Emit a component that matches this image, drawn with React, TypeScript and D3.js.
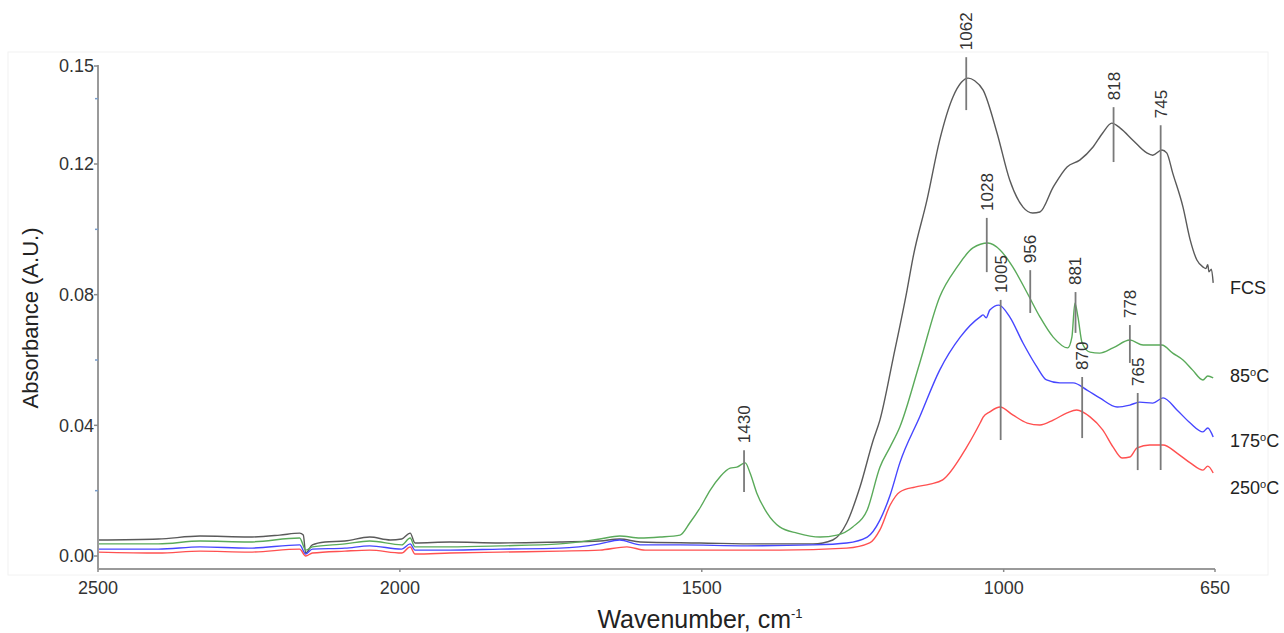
import React from "react";
import * as d3 from "d3";

type Pt = [number, number];

// Spectra: [wavenumber (cm-1), absorbance (A.U.)]
const fcsSpectrum: Pt[] = [
  [2500, 0.0049], [2400, 0.0052], [2331, 0.0061], [2250, 0.0058], [2199, 0.0064],
  [2166, 0.0070], [2160, 0.0064], [2156, 0.0009], [2145, 0.0034], [2124, 0.0043],
  [2091, 0.0046], [2050, 0.0058], [2016, 0.0049], [1997, 0.0052], [1983, 0.0070],
  [1975, 0.0040], [1917, 0.0043], [1834, 0.0040], [1735, 0.0043], [1669, 0.0046],
  [1636, 0.0052], [1602, 0.0043], [1503, 0.0040], [1404, 0.0037], [1316, 0.0037],
  [1283, 0.0049], [1260, 0.0101], [1238, 0.0211], [1216, 0.0355], [1205, 0.0416],
  [1183, 0.0606], [1160, 0.0814], [1150, 0.0915], [1127, 0.1090], [1106, 0.1273],
  [1084, 0.1405], [1070, 0.1450], [1059, 0.1463], [1048, 0.1455], [1034, 0.1426],
  [1011, 0.1295], [990, 0.1151], [968, 0.1068], [952, 0.1050], [940, 0.1053],
  [918, 0.1129], [895, 0.1191], [874, 0.1212], [852, 0.1252], [836, 0.1295],
  [821, 0.1325], [807, 0.1310], [786, 0.1273], [763, 0.1234], [753, 0.1227],
  [738, 0.1243], [730, 0.1234], [720, 0.1172], [703, 0.1068], [691, 0.0967],
  [680, 0.0906], [670, 0.0885], [665, 0.0880], [662, 0.0892], [660, 0.0870],
  [656, 0.0878], [653, 0.0836],
];

const spectrum85: Pt[] = [
  [2500, 0.0037], [2400, 0.0037], [2331, 0.0046], [2250, 0.0043], [2166, 0.0055],
  [2156, 0.0018], [2145, 0.0028], [2091, 0.0037], [2050, 0.0046], [1997, 0.0034],
  [1983, 0.0055], [1975, 0.0028], [1917, 0.0028], [1834, 0.0031], [1735, 0.0037],
  [1669, 0.0052], [1636, 0.0061], [1602, 0.0055], [1569, 0.0058], [1536, 0.0064],
  [1520, 0.0101], [1502, 0.0150], [1486, 0.0202], [1470, 0.0242], [1453, 0.0269],
  [1442, 0.0272], [1428, 0.0285], [1420, 0.0254], [1409, 0.0193], [1392, 0.0132],
  [1371, 0.0089], [1342, 0.0070], [1304, 0.0058], [1276, 0.0064], [1250, 0.0089],
  [1226, 0.0141], [1205, 0.0272], [1188, 0.0334], [1172, 0.0395], [1139, 0.0591],
  [1106, 0.0793], [1077, 0.0885], [1051, 0.0943], [1026, 0.0958], [1006, 0.0937],
  [985, 0.0885], [961, 0.0805], [940, 0.0732], [918, 0.0670], [894, 0.0637],
  [887, 0.0670], [882, 0.0774], [877, 0.0732], [870, 0.0652], [857, 0.0624],
  [841, 0.0621], [819, 0.0637], [791, 0.0661], [769, 0.0646], [738, 0.0646],
  [720, 0.0621], [703, 0.0600], [687, 0.0569], [670, 0.0539], [662, 0.0551],
  [653, 0.0545],
];

const spectrum175: Pt[] = [
  [2500, 0.0021], [2400, 0.0021], [2331, 0.0028], [2250, 0.0024], [2166, 0.0034],
  [2156, 0.0006], [2145, 0.0021], [2091, 0.0024], [2050, 0.0031], [1997, 0.0021],
  [1983, 0.0037], [1975, 0.0018], [1917, 0.0018], [1834, 0.0021], [1735, 0.0024],
  [1669, 0.0037], [1636, 0.0049], [1602, 0.0034], [1536, 0.0034], [1425, 0.0031],
  [1316, 0.0034], [1260, 0.0040], [1226, 0.0058], [1205, 0.0110], [1188, 0.0187],
  [1172, 0.0285], [1139, 0.0426], [1106, 0.0569], [1072, 0.0670], [1039, 0.0732],
  [1034, 0.0738], [1029, 0.0729], [1023, 0.0753], [1008, 0.0768], [990, 0.0732],
  [968, 0.0652], [945, 0.0579], [929, 0.0539], [907, 0.0530], [885, 0.0530],
  [862, 0.0508], [841, 0.0484], [812, 0.0456], [791, 0.0462], [775, 0.0471],
  [753, 0.0468], [736, 0.0484], [713, 0.0447], [691, 0.0407], [670, 0.0380],
  [662, 0.0392], [653, 0.0364],
];

const spectrum250: Pt[] = [
  [2500, 0.0012], [2400, 0.0009], [2331, 0.0015], [2250, 0.0012], [2166, 0.0021],
  [2156, 0.0000], [2145, 0.0009], [2091, 0.0015], [2050, 0.0018], [1997, 0.0009],
  [1983, 0.0028], [1975, 0.0006], [1917, 0.0009], [1834, 0.0012], [1735, 0.0015],
  [1669, 0.0018], [1624, 0.0028], [1594, 0.0018], [1536, 0.0018], [1371, 0.0018],
  [1260, 0.0024], [1222, 0.0040], [1205, 0.0080], [1188, 0.0156], [1172, 0.0196],
  [1147, 0.0211], [1122, 0.0220], [1101, 0.0233], [1061, 0.0334], [1039, 0.0407],
  [1034, 0.0425], [1023, 0.0441], [1006, 0.0456], [985, 0.0432], [961, 0.0407],
  [940, 0.0401], [918, 0.0416], [895, 0.0438], [879, 0.0447], [857, 0.0426],
  [836, 0.0386], [819, 0.0334], [804, 0.0300], [791, 0.0303], [779, 0.0331],
  [758, 0.0340], [736, 0.0340], [713, 0.0315], [691, 0.0285], [670, 0.0263],
  [662, 0.0275], [653, 0.0254],
];

const seriesData: Pt[][] = [fcsSpectrum, spectrum85, spectrum175, spectrum250];
const seriesNames = ["FCS", "85", "175", "250"];
const seriesHasDegree = [false, true, true, true];
const seriesLabelValues = [0.0822, 0.0551, 0.0352, 0.0208];
const seriesColors = ["#5a5a5a", "#5aaa5a", "#4646ff", "#ff5050"];

// Peak annotations
const peakLabels = ["1430", "1062", "1028", "1005", "956", "881", "870", "818", "778", "765", "745"];
const peakPositions = [1430, 1062, 1028, 1005, 956, 881, 870, 818, 791, 778, 740];
const peakTops = [0.0324, 0.1527, 0.1035, 0.0784, 0.0875, 0.0808, 0.0548, 0.1374, 0.0707, 0.0499, 0.1319];
const peakBottoms = [0.0196, 0.1365, 0.0869, 0.0355, 0.0744, 0.0683, 0.0361, 0.1206, 0.0591, 0.0263, 0.0263];

// Axes
const xTicks = [2500, 2000, 1500, 1000, 650];
const yMajorTicks = [0, 0.04, 0.08, 0.12, 0.15];
const yTickLabels = ["0.00", "0.04", "0.08", "0.12", "0.15"];
const yMinorTicks = [0.02, 0.06, 0.1, 0.14];

const W = 1284;
const H = 633;
const FONT = "'Liberation Sans', Arial, Helvetica, sans-serif";

export default function App() {
  const x = d3.scaleLinear().domain([2500, 650]).range([98, 1215]);
  const y = d3.scaleLinear().domain([0, 0.15]).range([556, 66]);
  const axisY = 569;

  const line = d3
    .line<Pt>()
    .x((d) => x(d[0]))
    .y((d) => y(d[1]))
    .curve(d3.curveMonotoneX);

  const labelX = x(650) + 15;

  return (
    <svg
      width={W}
      height={H}
      viewBox={`0 0 ${W} ${H}`}
      style={{ position: "absolute", left: 0, top: 0, background: "#fff" }}
      fontFamily={FONT}
    >
      <rect x={0} y={0} width={W} height={H} fill="#fff" />
      <rect x={8} y={52} width={1260} height={523} fill="none" stroke="#f2f2f2" strokeWidth={1} />

      {/* spectra */}
      {seriesData.map((s, i) => (
        <path
          key={seriesNames[i]}
          d={line([...s].sort((a, b) => b[0] - a[0])) || ""}
          fill="none"
          stroke={seriesColors[i]}
          strokeWidth={1.4}
          strokeLinejoin="round"
        />
      ))}

      {/* peak markers */}
      {peakLabels.map((lab, i) => {
        const px = x(peakPositions[i]);
        const yt = y(peakTops[i]);
        const yb = y(peakBottoms[i]);
        return (
          <g key={lab}>
            <line x1={px} x2={px} y1={yt} y2={yb} stroke="#7a7a7a" strokeWidth={1.8} />
            <text
              transform={`translate(${px},${yt - 7}) rotate(-90)`}
              textAnchor="start"
              dy="0.35em"
              fontSize={17}
              fill="#333"
            >
              {lab}
            </text>
          </g>
        );
      })}

      {/* axes */}
      <line x1={x(2500)} x2={x(2500)} y1={y(0.15) - 1} y2={axisY} stroke="#9a9a9a" strokeWidth={2} />
      <line x1={x(2500)} x2={x(650)} y1={axisY} y2={axisY} stroke="#9a9a9a" strokeWidth={2} />

      {yMajorTicks.map((t, i) => (
        <g key={"ym" + t}>
          <line x1={x(2500) - 4} x2={x(2500)} y1={y(t)} y2={y(t)} stroke="#8a8a8a" strokeWidth={1.5} />
          <text x={x(2500) - 4} y={y(t)} dy="0.35em" textAnchor="end" fontSize={18} fill="#333">
            {yTickLabels[i]}
          </text>
        </g>
      ))}
      {yMinorTicks.map((t) => (
        <line key={"yn" + t} x1={x(2500) - 3} x2={x(2500)} y1={y(t)} y2={y(t)} stroke="#7a9cc8" strokeWidth={1.5} />
      ))}

      {xTicks.map((t) => (
        <g key={"x" + t}>
          <line x1={x(t)} x2={x(t)} y1={axisY} y2={axisY + 3} stroke="#8a8a8a" strokeWidth={1.5} />
          <text x={x(t)} y={594} textAnchor="middle" fontSize={18} fill="#333">
            {t}
          </text>
        </g>
      ))}

      {/* axis titles */}
      <text
        transform={`translate(30,318) rotate(-90)`}
        textAnchor="middle"
        dy="0.35em"
        fontSize={22}
        fill="#222"
      >
        Absorbance (A.U.)
      </text>
      <text x={700} y={628} textAnchor="middle" fontSize={25} fill="#222">
        Wavenumber, cm
        <tspan fontSize={13} dy={-10}>-1</tspan>
      </text>

      {/* series labels */}
      {seriesNames.map((n, i) => (
        <text
          key={"lab" + n}
          x={labelX}
          y={y(seriesLabelValues[i])}
          dy="0.35em"
          fontSize={18}
          fill="#222"
        >
          {n}
          {seriesHasDegree[i] ? (
            <>
              <tspan fontSize={11} dy={-6}>o</tspan>
              <tspan dy={6}>C</tspan>
            </>
          ) : null}
        </text>
      ))}
    </svg>
  );
}
